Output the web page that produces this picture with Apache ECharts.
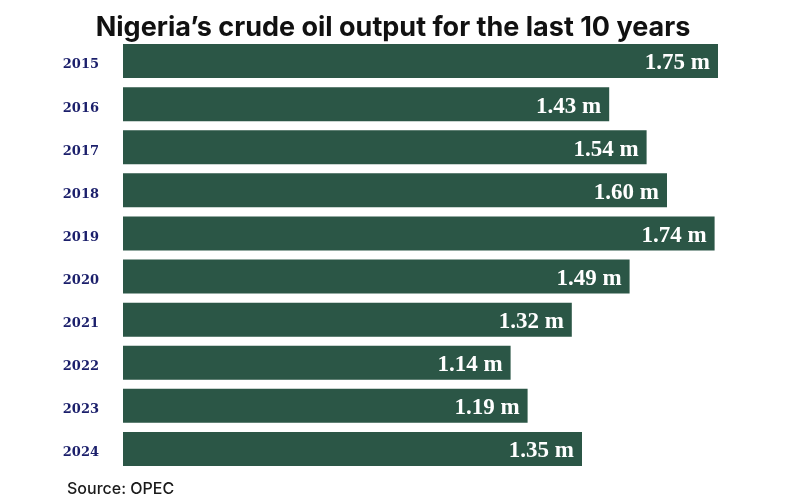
<!DOCTYPE html>
<html>
<head>
<meta charset="utf-8">
<script src="https://cdn.jsdelivr.net/npm/echarts@6/dist/echarts.min.js"></script>
<style>
html, body { margin: 0; padding: 0; background: #fff; }
#chart { width: 800px; height: 500px; }
</style>
</head>
<body>
<div id="chart"></div>
<script>
// years, top to bottom
const years = ['2015', '2016', '2017', '2018', '2019', '2020', '2021', '2022', '2023', '2024']
// output, million barrels per day
const output = [1.75, 1.43, 1.54, 1.60, 1.74, 1.49, 1.32, 1.14, 1.19, 1.35]

const chart = echarts.init(document.getElementById('chart'))

const option = {
  backgroundColor: '#ffffff',
  animation: false,
  title: [
    {
      text: 'Nigeria\u2019s crude oil output for the last 10 years',
      left: 388,
      textAlign: 'center',
      top: 9,
      textStyle: {
        fontFamily: 'Inter',
        fontWeight: 700,
        fontSize: 27,
        color: '#111111'
      }
    },
    {
      text: 'Source: OPEC',
      left: 62,
      top: 476,
      textStyle: {
        fontFamily: 'Inter',
        fontWeight: 500,
        fontSize: 16,
        color: '#1a1a1a'
      }
    }
  ],
  grid: {
    left: 123,
    right: 82,
    top: 39.5,
    bottom: 29.5,
    containLabel: false
  },
  xAxis: {
    type: 'value',
    min: 0,
    max: 1.75,
    show: false
  },
  yAxis: {
    type: 'category',
    inverse: true,
    data: years,
    axisLine: { show: false },
    axisTick: { show: false },
    axisLabel: {
      margin: 24,
      formatter: v => '{y|' + v + '}',
      rich: {
        y: {
          padding: [8, 0, 0, 0],
          fontFamily: 'DejaVu Serif',
          fontWeight: 'bold',
          fontSize: 13,
          color: '#1b1f6b'
        }
      }
    }
  },
  series: [
    {
      type: 'bar',
      data: output,
      barWidth: 34,
      itemStyle: { color: '#2b5646' },
      label: {
        show: true,
        position: 'insideRight',
        distance: 8,
        formatter: p => '{v|' + p.value.toFixed(2) + ' m}',
        rich: {
          v: {
            padding: [5, 0, 0, 0],
            fontFamily: 'Liberation Serif',
            fontWeight: 'bold',
            fontSize: 23,
            color: '#ffffff'
          }
        }
      }
    }
  ]
}

chart.setOption(option)
</script>
</body>
</html>
